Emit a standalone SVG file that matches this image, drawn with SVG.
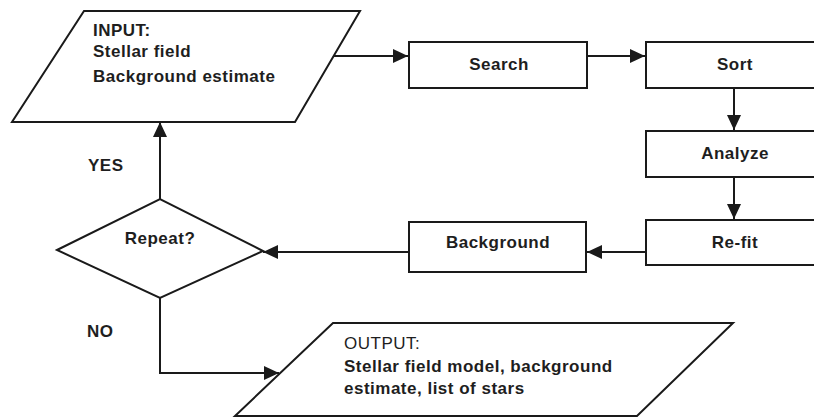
<svg xmlns="http://www.w3.org/2000/svg" width="814" height="417" viewBox="0 0 814 417">
  <style>
    .shape { fill: #ffffff; stroke: #1a1a1a; stroke-width: 2; }
    .conn { fill: none; stroke: #1a1a1a; stroke-width: 2; }
    text { font-family: "Liberation Sans", Arial, sans-serif; font-size: 17px; font-weight: bold; fill: #1e1e1e; letter-spacing: 0.5px; }
    .c { text-anchor: middle; }
    .light { font-weight: normal; }
  </style>
  <defs>
    <marker id="arrow" viewBox="0 0 15 14" refX="15" refY="7" markerWidth="15" markerHeight="14" markerUnits="userSpaceOnUse" orient="auto">
      <path d="M0,0 L15,7 L0,14 z" fill="#1a1a1a"/>
    </marker>
  </defs>
  <rect width="814" height="417" fill="#ffffff"/>

  <g id="connectors">
    <line class="conn" x1="334" y1="56" x2="408" y2="56" marker-end="url(#arrow)"/>
    <line class="conn" x1="587" y1="56" x2="645" y2="56" marker-end="url(#arrow)"/>
    <line class="conn" x1="734" y1="88" x2="734" y2="130" marker-end="url(#arrow)"/>
    <line class="conn" x1="734" y1="177" x2="734" y2="219" marker-end="url(#arrow)"/>
    <line class="conn" x1="646" y1="252" x2="587" y2="252" marker-end="url(#arrow)"/>
    <line class="conn" x1="409" y1="252" x2="263" y2="252" marker-end="url(#arrow)"/>
    <line class="conn" x1="160" y1="199" x2="160" y2="122" marker-end="url(#arrow)"/>
    <polyline class="conn" points="160,298 160,373 279,373" marker-end="url(#arrow)"/>
  </g>

  <g id="input">
    <polygon class="shape" points="84,11 360,11 295,122 12,122"/>
    <text x="93" y="36">INPUT:</text>
    <text x="93" y="57">Stellar field</text>
    <text x="93" y="82">Background estimate</text>
  </g>

  <g id="search">
    <rect class="shape" x="409" y="42" width="178" height="46"/>
    <text class="c" x="499" y="70">Search</text>
  </g>

  <g id="sort">
    <rect class="shape" x="646" y="42" width="190" height="46"/>
    <text class="c" x="735" y="70">Sort</text>
  </g>

  <g id="analyze">
    <rect class="shape" x="646" y="131" width="190" height="46"/>
    <text class="c" x="735" y="159">Analyze</text>
  </g>

  <g id="refit">
    <rect class="shape" x="646" y="220" width="190" height="45"/>
    <text class="c" x="735" y="248">Re-fit</text>
  </g>

  <g id="background">
    <rect class="shape" x="409" y="222" width="177" height="50"/>
    <text class="c" x="498" y="248">Background</text>
  </g>

  <g id="repeat">
    <polygon class="shape" points="57,250 160,199 263,251 160,298"/>
    <text class="c" x="160" y="244">Repeat?</text>
  </g>

  <g id="labels">
    <text x="88" y="171">YES</text>
    <text x="87" y="337">NO</text>
  </g>

  <g id="output">
    <polygon class="shape" points="333,323 733,323 637,416 235,416"/>
    <text class="light" x="344" y="349">OUTPUT:</text>
    <text x="344" y="372">Stellar field model, background</text>
    <text x="344" y="394">estimate, list of stars</text>
  </g>
</svg>
